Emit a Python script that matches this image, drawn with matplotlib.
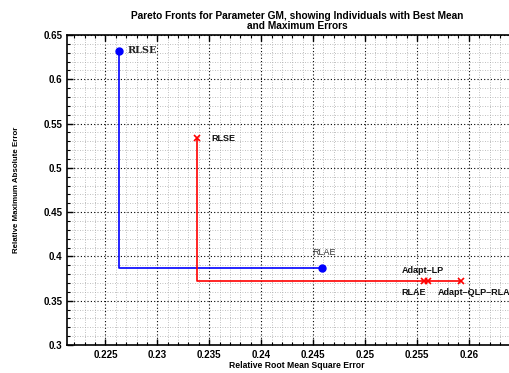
import matplotlib
matplotlib.use("Agg")
import matplotlib.pyplot as plt
from matplotlib.ticker import MultipleLocator

# Pareto front for the first individual set (blue): RLSE -> RLAE
blue_x = [0.22630, 0.24581]
blue_y = [0.6320, 0.3869]
blue_labels = ["RLSE", "RLAE"]

# Pareto front for the second individual set (red)
red_x = [0.23383, 0.25567, 0.25610, 0.25920]
red_y = [0.5335, 0.3723, 0.3723, 0.3723]
red_labels = ["RLSE", "Adapt\u2013LP", "RLAE", "Adapt\u2013QLP\u2013RLAE"]

x_ticks = [0.225, 0.23, 0.235, 0.24, 0.245, 0.25, 0.255, 0.26]
y_ticks = [0.3, 0.35, 0.4, 0.45, 0.5, 0.55, 0.6, 0.65]

plt.rcParams['font.family'] = ['Liberation Sans', 'DejaVu Sans']

fig = plt.figure(figsize=(5.10, 3.73), dpi=100)
ax = fig.add_axes([67 / 510, 1 - 345 / 373, (527 - 67) / 510, (345 - 35) / 373])

def step_path(xs, ys):
    px, py = [xs[0]], [ys[0]]
    for x, y in zip(xs[1:], ys[1:]):
        px += [px[-1], x]
        py += [y, y]
    return px, py

bx, by = step_path(blue_x, blue_y)
ax.plot(bx, by, color='#0000ff', lw=1.2, zorder=3)
ax.plot(blue_x, blue_y, 'o', color='#0000ff', ms=5, zorder=4)

rx, ry = step_path(red_x, red_y)
ax.plot(rx, ry, color='#ff0000', lw=1.2, zorder=3)
ax.plot(red_x, red_y, 'x', color='#ff0000', ms=5, mew=1.2, zorder=4)

# point annotations
ax.text(blue_x[0] + 0.0008, blue_y[0], blue_labels[0], family=['DejaVu Serif'],
        fontweight='bold', fontsize=7, va='center', ha='left', color='#222222')
ax.text(blue_x[1] - 0.0009, blue_y[1] + 0.017, blue_labels[1],
        fontsize=6.5, va='center', ha='left', color='#333333')
ax.text(red_x[0] + 0.0014, red_y[0], red_labels[0],
        fontweight='bold', fontsize=6.5, va='center', ha='left', color='#111111')
ax.text(red_x[1] - 0.0021, red_y[1] + 0.0118, red_labels[1],
        fontweight='bold', fontsize=6.5, va='center', ha='left', color='#111111')
ax.text(red_x[2] - 0.0026, red_y[2] - 0.0125, red_labels[2],
        fontweight='bold', fontsize=6.5, va='center', ha='left', color='#111111')
ax.text(red_x[3] - 0.0022, red_y[3] - 0.0125, red_labels[3],
        fontweight='bold', fontsize=6.5, va='center', ha='left', color='#111111')

ax.set_xlim(0.2213, 0.2656)
ax.set_ylim(0.3, 0.65)
ax.set_xticks(x_ticks)
ax.set_yticks(y_ticks)
ax.set_xticklabels([f"{v:g}" for v in x_ticks])
ax.set_yticklabels([f"{v:g}" for v in y_ticks])
ax.xaxis.set_minor_locator(MultipleLocator(0.001))
ax.yaxis.set_minor_locator(MultipleLocator(0.01))

ax.grid(True, which='major', color='black', linestyle=(0, (1, 2)), lw=0.8)
ax.grid(True, which='minor', color='#aaaaaa', linestyle=(0, (1, 2)), lw=0.6)
ax.set_axisbelow(True)

ax.tick_params(which='both', direction='in', top=True, right=True,
               labelsize=7)
ax.tick_params(which='major', length=4, width=1)
ax.tick_params(which='minor', length=2, width=0.8)
for lab in ax.get_xticklabels() + ax.get_yticklabels():
    lab.set_fontweight('bold')
for sp in ax.spines.values():
    sp.set_linewidth(1.2)

ax.set_xlabel("Relative Root Mean Square Error", fontsize=6.2, fontweight='bold', labelpad=1)
ax.set_ylabel("Relative Maximum Absolute Error", fontsize=5.7, fontweight='bold', labelpad=17)
ax.set_title("Pareto Fronts for Parameter GM, showing Individuals with Best Mean\nand Maximum Errors",
             fontsize=7.3, fontweight='bold', pad=4, linespacing=1.1)

fig.savefig("out.png", dpi=100)
